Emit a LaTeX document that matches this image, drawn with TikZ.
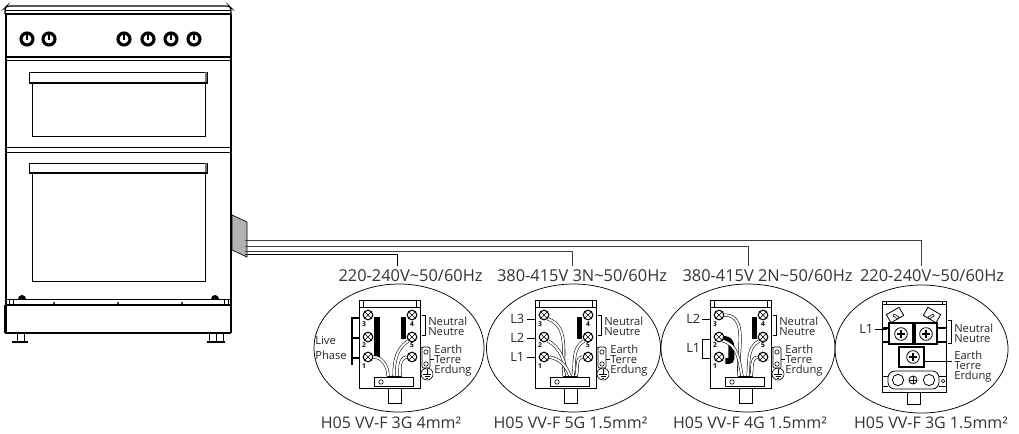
\documentclass[tikz,border=0pt]{standalone}
\usepackage{fontspec}
\setmainfont{Open Sans}
\usetikzlibrary{calc}
\tikzset{
  line/.style={draw=black, line width=0.45pt},
  knob/.style={draw, circle, line width=2.3pt, fill=white, minimum size=9pt, inner sep=0pt},
  terminal/.style={draw, circle, line width=0.8pt, fill=white, minimum size=7.2pt, inner sep=0pt,
    path picture={\draw[line width=0.3pt] (path picture bounding box.north west) -- (path picture bounding box.south east)
      (path picture bounding box.north east) -- (path picture bounding box.south west);}},
  wire/.style={draw=black, line width=0.4pt, double=white, double distance=1.5pt},
  bridge/.style={line width=3.8pt},
  txt/.style={inner sep=0pt, anchor=west, font=\fontsize{8.4}{9}\selectfont, text=black!85},
  ltxt/.style={txt, font=\fontsize{9.6}{10}\selectfont},
  num/.style={inner sep=0pt, font=\fontsize{5}{5}\selectfont\bfseries},
  volt/.style={inner sep=0pt, font=\fontsize{12.3}{13}\selectfont, text=black!80},
  spec/.style={inner sep=0pt, font=\fontsize{12}{13}\selectfont, text=black!80},
  cable/.style={draw=black!75, line width=0.4pt},
}
% wiring box, drawn from its top left corner
\newcommand{\wirebox}[2]{
  \begin{scope}[shift={(#2,300)}, name prefix=#1-]
    \node[draw, line width=0.6pt, anchor=north west, minimum width=45.5pt, minimum height=66pt, inner sep=0pt] (box) at (0,0) {};
    \draw[line] (0,7) -- (61,7) (4,0) -- (4,7) (57,0) -- (57,7);
    \node[draw, line width=0.5pt, fill=white, anchor=north west, minimum width=29pt, minimum height=7pt, inner sep=0pt] (block) at (15,77) {};
    \draw[line, fill=white] (22,82) circle (2.2);
    \draw[line] (29,88) rectangle (42,103);
    \foreach \tname/\tx/\ty in {t3/9/15, t2/9/37, t1/9/57, t4/53/15, t5/53/37, t6/53/57}
      \node[terminal] (\tname) at (\tx,\ty) {};
    \foreach \nnum/\nx/\ny in {3/5/24, 2/5/45, 1/5/66, 4/53/24, 5/53/45}
      \node[num] (n\nnum) at (\nx,\ny) {\nnum};
    \foreach \wname/\wx in {w1/29, w2/32, w3/35, w4/38, w5/41}
      \coordinate (\wname) at (\wx,76);
    \draw[line width=1.2pt] (28,76.5) -- (43,76.5);
    \draw[line, line width=0.7pt] (63,15) -- (66,15) -- (66,35) -- (63,35);
    \draw[line, rounded corners=1pt] (63,47) rectangle (71,68);
    \draw[line] (67,52) circle (2.2) (67,64) circle (2.2);
    \draw[line] (68,74) circle (6);
    \draw[line] (68,69) -- (68,74) (64,74) -- (72,74) (65.5,76) -- (70.5,76) (67,78) -- (69,78);
    \draw[line] (61,45) -- (61,47) -- (63,47) (61,63) -- (61,65);
    \draw[line] (71,59) -- (75,59);
    \node[txt] (neutral) at (69,21) {Neutral};
    \node[txt] (neutre) at (69,32) {Neutre};
    \node[txt] (earth) at (75,49) {Earth};
    \node[txt] (terre) at (75,60) {Terre};
    \node[txt] (erdung) at (75,71) {Erdung};
  \end{scope}
}
\begin{document}
\begin{tikzpicture}[x=0.75pt, y=-0.75pt]
  \useasboundingbox (0,0) rectangle (1019,433);

  % cooker
  \draw[line width=0.8pt, rounded corners=2pt] (5,14) -- (5,8) -- (7,6) -- (229,6) -- (231,8) -- (231,14);
  \draw[line] (5,10) -- (231,10);
  \draw[line width=1.5pt] (5,14) -- (231,14);
  \draw[line width=0.8pt] (6,14) -- (6,333) (231,14) -- (231,333);
  \draw[line, line width=0.8pt] (5,57) -- (231,57);
  \draw[line] (5,60) -- (231,60);
  \foreach \kx in {27,49,124,148,171,194} {
    \node[knob] (k\kx) at (\kx,39) {};
    \draw[line width=0.9pt] (\kx,33) -- (\kx,40);
  }
  % doors
  \foreach \dy/\dh/\dw in {72/83/136, 163/173/281} {
    \draw[line width=0.6pt] (29,\dy) rectangle (207,\dh);
    \fill[black!55] (204.5,\dy) rectangle (207,\dh);
    \draw[line width=0.9pt] (29,\dh) -- (207,\dh);
    \draw[line, line width=0.55pt] (32,\dh) rectangle (205,\dw);
  }
  \draw[line width=0.6pt] (6,147) -- (231,147) (6,152) -- (231,152);
  \draw[line width=0.6pt] (6,299) -- (231,299);
  \draw[line width=1.1pt] (5,305) -- (231,305);
  \fill (18,299) arc (180:360:4) -- cycle;
  \fill (211,299) arc (180:360:4) -- cycle;
  \foreach \px in {54,118,182}
    \fill (\px,303) circle (1.2);
  \foreach \px in {9,13,224,228}
    \draw[line] (\px,299) -- (\px,305);
  \draw[line width=0.8pt] (5,305) -- (5,333);
  \draw[line width=1.2pt] (5,333) -- (231,333);
  % feet
  \draw[line] (17,333) -- (17,342) (24,333) -- (24,342) (209,333) -- (209,342) (216,333) -- (216,342) (223,333) -- (223,342);
  \draw[line width=1.3pt] (12,342) -- (28,342) (207,342) -- (225,342);

  % terminal cover and cables
  \draw[fill=black!30, line width=0.5pt] (232,215) -- (247,222) -- (247,257) -- (232,250) -- cycle;
  \coordinate (sa) at (245,254);
  \coordinate (sb) at (245,251);
  \coordinate (sc) at (245,246);
  \coordinate (sd) at (245,240);
  \coordinate (ea) at (397,266);
  \coordinate (eb) at (572,266);
  \coordinate (ec) at (748,266);
  \coordinate (ed) at (921,266);
  \draw[cable, draw=black] (sa) -| (ea);
  \draw[cable] (sb) -| (eb);
  \draw[cable] (sc) -| (ec);
  \draw[cable] (sd) -| (ed);

  % voltages
  \node[volt] (va) at (410.5,276) {220-240V\textasciitilde50/60Hz};
  \node[volt] (vb) at (582,276) {380-415V 3N\textasciitilde50/60Hz};
  \node[volt] (vc) at (767.5,276) {380-415V 2N\textasciitilde50/60Hz};
  \node[volt] (vd) at (932,276) {220-240V\textasciitilde50/60Hz};

  % circles
  \draw[line, line width=0.55pt] (399,348) ellipse (85 and 64);
  \draw[line, line width=0.55pt] (573.5,348) ellipse (87 and 64);
  \draw[line, line width=0.55pt] (748,348) ellipse (87 and 64);
  \draw[line, line width=0.55pt] (921.5,349) ellipse (86.5 and 64);

  % cable types
  \node[spec] (ha) at (391,423) {H05 VV-F 3G 4mm²};
  \node[spec] (hb) at (570.5,423) {H05 VV-F 5G 1.5mm²};
  \node[spec] (hc) at (750,423) {H05 VV-F 4G 1.5mm²};
  \node[spec] (hd) at (931,423) {H05 VV-F 3G 1.5mm²};

  % boxes
  \wirebox{a}{359}
  \wirebox{b}{535}
  \wirebox{c}{710}

  % first box
  \draw[bridge, line width=5pt] (a-t3) ++(9,2) -- ++(0,41);
  \draw[bridge] (a-t4) ++(-8.5,2) -- ++(0,22);
  \draw[wire] (a-t1.east) to[out=0, in=90] (a-w1);
  \draw[wire] (a-t5.south west) to[out=215, in=90] (a-w3);
  \draw[wire] (a-t6.west) to[out=190, in=90] (a-w5);
  \draw[line, line width=1.1pt] (359,318) -- (352,318) -- (352,365) (359,338) -- (352,338) (359,358) -- (352,358);
  \node[txt] (live) at (315,340) {Live};
  \node[txt] (phase) at (315,355) {Phase};

  % second box
  \draw[bridge] (b-t4) ++(-8.5,2) -- ++(0,22);
  \draw[wire] (b-t3.south east) to[out=-20, in=95] (b-w1);
  \draw[wire] (b-t2.south east) to[out=-30, in=100] (b-w2);
  \draw[wire] (b-t1.east) to[out=-10, in=110] (b-w3);
  \draw[wire] (b-t5.south west) to[out=210, in=80] (b-w4);
  \draw[wire] (b-t6.west) to[out=190, in=70] (b-w5);
  \node[ltxt] (lc) at (510,319) {L3};
  \node[ltxt] (lb) at (510,338) {L2};
  \node[ltxt] (la) at (510,357) {L1};
  \foreach \lname in {lc,lb,la}
    \draw[line] (\lname.east) ++(2,0) -- (\lname.east -| b-box.west);

  % third box
  \draw[bridge] (c-t4) ++(-8.5,2) -- ++(0,22);
  \draw[bridge, rounded corners=2pt, line width=4.4pt] (c-t2.east) ++(-1,2) -- ++(4,0) -- ++(4,4) -- ++(0,18) -- ++(-6,0);
  \draw[wire] (c-t3.east) to[out=0, in=95] (c-w1);
  \draw[wire] (c-t2.south east) to[out=-15, in=100] (c-w2);
  \draw[wire] (c-t5.south west) to[out=210, in=85] (c-w4);
  \draw[wire] (c-t6.west) to[out=190, in=75] (c-w5);
  \node[ltxt] (ld) at (686,319) {L2};
  \node[ltxt] (le) at (686,348) {L1};
  \draw[line] (ld.east) ++(1,0) -- (ld.east -| c-box.west);
  \draw[line, line width=0.6pt] (710,339) -- (702,339) -- (702,358) -- (710,358);

  % fourth box
  \node[draw, line width=0.6pt, anchor=north west, minimum width=48pt, minimum height=68pt, inner sep=0pt] (clampbox) at (882,301) {};
  \draw[line] (882,304) -- (946,304) (886,301) -- (886,304) (942,301) -- (942,304);
  \draw[line width=1.5pt] (882,328) -- (889,328) (882,342) -- (889,342) (937,328) -- (946,328) (937,342) -- (946,342);
  \node[draw, line width=0.6pt, minimum width=11pt, minimum height=7pt, inner sep=0pt, rotate=30] (taga) at (895,315) {};
  \node[draw, line width=0.6pt, minimum width=11pt, minimum height=7pt, inner sep=0pt, rotate=-30] (tagb) at (932,315) {};
  \draw[line, fill=white] (894,314) -- (899,317) -- (898,319) -- (893,316) -- cycle;
  \draw[line, fill=white] (933,314) -- (928,317) -- (929,319) -- (934,316) -- cycle;
  \draw[line width=0.9pt, fill=white] (889,323) rectangle (913,344);
  \draw[line width=0.9pt, fill=white] (915,323) rectangle (937,344);
  \draw[line width=0.9pt, fill=white] (899,347) rectangle (924,367);
  \foreach \sname/\sx/\sy in {sca/901/334, scb/926/334, scc/913/357} {
    \node[draw, circle, line width=0.6pt, minimum size=9.5pt, inner sep=0pt] (\sname) at (\sx,\sy) {};
    \draw[line width=0.8pt] (\sx-4,\sy) -- (\sx+4,\sy) (\sx,\sy-4) -- (\sx,\sy+4);
  }
  \draw[line] (882,376) -- (888,376) (939,376) -- (946,376) (882,386) -- (888,386) (939,386) -- (946,386);
  \draw[line] (943,381) circle (1.8);
  \draw[line width=0.6pt, fill=white, rounded corners=5pt] (888,371) rectangle (939,389);
  \foreach \pname/\px in {pla/898, plb/929}
    \node[draw, circle, line width=0.6pt, fill=white, minimum size=8.5pt, inner sep=0pt] (\pname) at (\px,380) {};
  \node[draw, circle, line width=0.6pt, minimum size=6pt, inner sep=0pt] (plc) at (913,380) {};
  \draw[line] (913,376) -- (913,384) (909,380) -- (917,380);
  \draw[line] (907,392) rectangle (920,404);
  \node[ltxt] (lf) at (859,329) {L1};
  \draw[line] (lf.east) ++(1,0) -- (887,329);
  \draw[line, line width=0.7pt] (948,320) -- (951,320) -- (951,343) -- (948,343);
  \node[txt] (dneutral) at (954,328) {Neutral};
  \node[txt] (dneutre) at (954,339) {Neutre};
  \node[txt] (dearth) at (954,355) {Earth};
  \node[txt] (dterre) at (954,366) {Terre};
  \node[txt] (derdung) at (954,377) {Erdung};
  \draw[line] (924,361) -- (952,361);
\end{tikzpicture}
\end{document}
